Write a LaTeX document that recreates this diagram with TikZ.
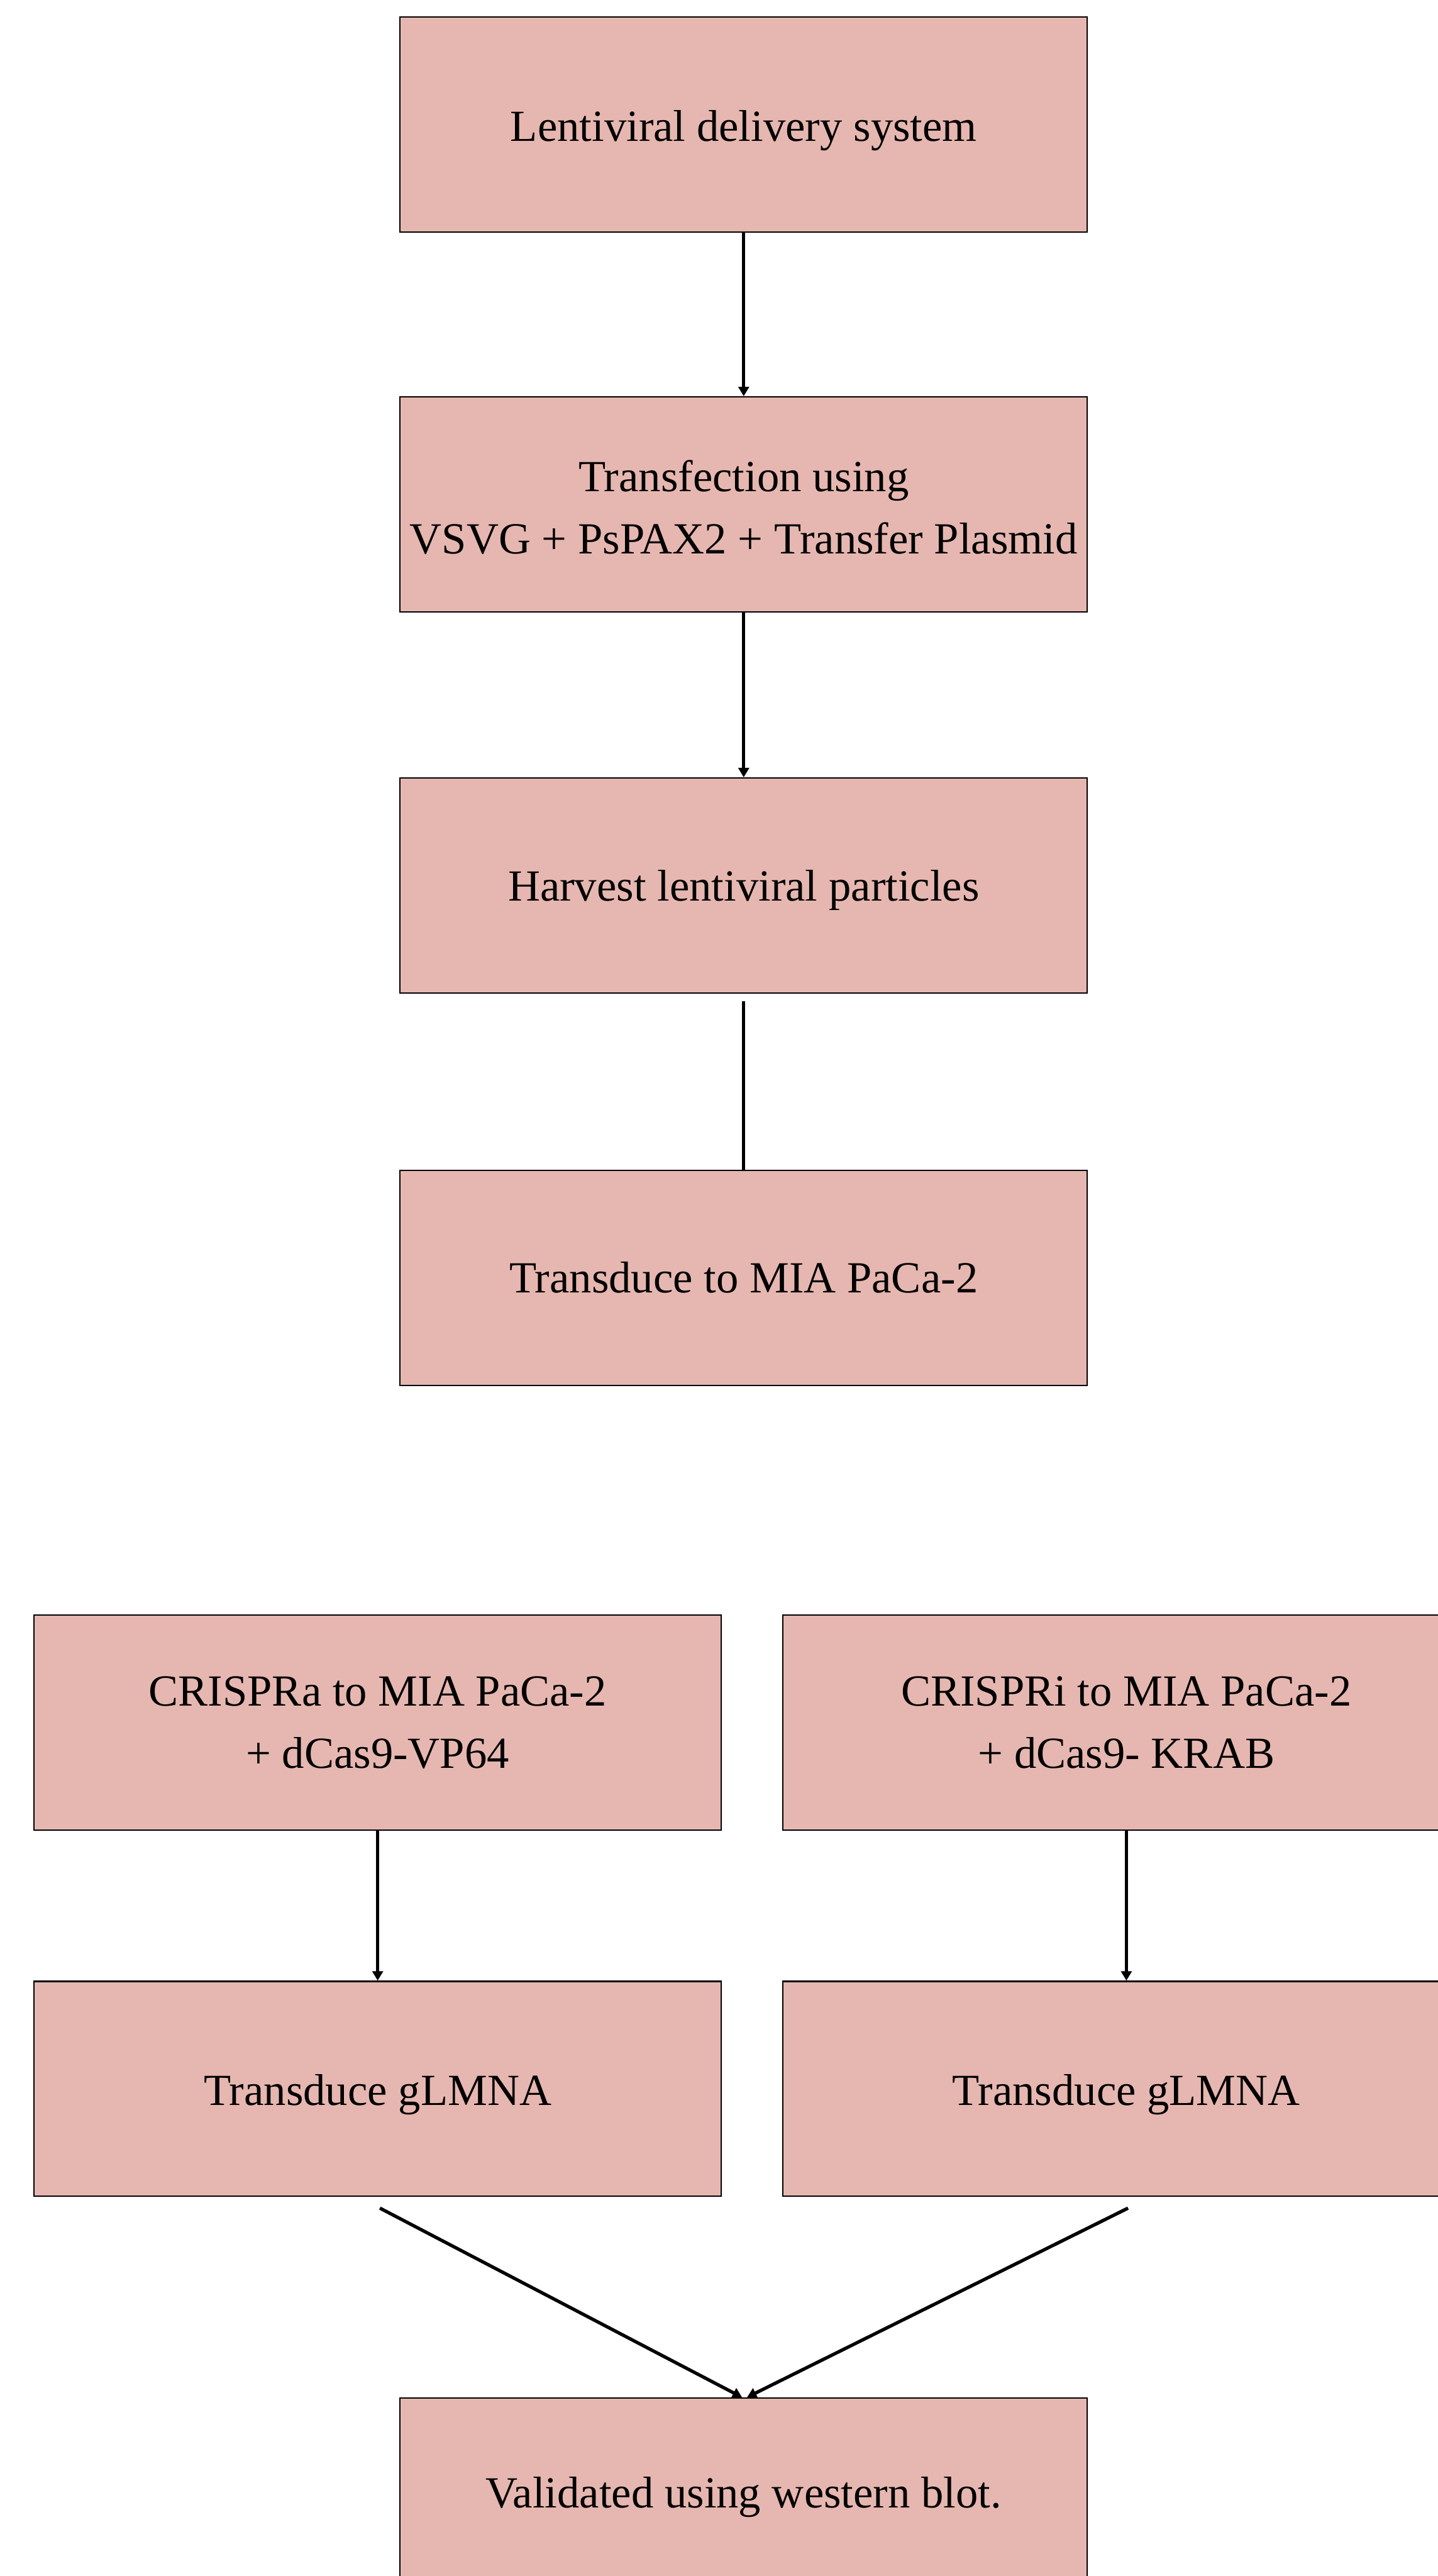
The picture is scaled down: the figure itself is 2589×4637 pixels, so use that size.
\documentclass[tikz,border=0pt]{standalone}
\usepackage{fontspec}
\setmainfont{Liberation Serif}
\usetikzlibrary{arrows.meta,calc}
\definecolor{boxfill}{RGB}{230,183,176}
\newcommand{\shiftline}[2]{\raisebox{#1}[\height][\depth]{#2}}
\begin{document}
\begin{tikzpicture}[x=0.2pt,y=-0.2pt,
  stepbox/.style={draw=black,line width=0.5pt,fill=boxfill,minimum width=247.5pt,minimum height=77.4pt,
    inner sep=0pt,align=center,font=\fontsize{16pt}{22.4pt}\selectfont},
  arr/.style={line width=1.2pt,-{Triangle[length=3.4pt,width=3.8pt]}},
  plain/.style={line width=1.2pt}]
\useasboundingbox (0,0) rectangle (2589,4637);
\clip (0,0) rectangle (2589,4637);
\fill[white] (0,0) rectangle (2589,4637);
\node[stepbox] (b1) at (1339,224) {\shiftline{-2.2pt}{Lentiviral delivery system}};
\node[stepbox] (b2) at (1339,908) {\shiftline{-1pt}{Transfection using}\\\shiftline{-1pt}{VSVG + PsPAX2 + Transfer Plasmid}};
\node[stepbox] (b3) at (1339,1594) {\shiftline{-1.6pt}{Harvest lentiviral particles}};
\node[stepbox] (b4) at (1339,2300) {Transduce to MIA PaCa-2};
\node[stepbox] (b5) at (680,3101) {CRISPRa to MIA PaCa-2\\+ dCas9-VP64};
\node[stepbox] (b6) at (2028,3101) {CRISPRi to MIA PaCa-2\\+ dCas9- KRAB};
\node[stepbox] (b7) at (680,3760) {\shiftline{-2pt}{Transduce gLMNA}};
\node[stepbox] (b8) at (2028,3760) {\shiftline{-2pt}{Transduce gLMNA}};
\node[stepbox] (b9) at (1339,4510) {\shiftline{3pt}{Validated using western blot.}};
\coordinate (s3) at ($(b3.south)+(0,13)$);
\coordinate (s7) at ($(b7.south)+(4,20)$);
\coordinate (s8) at ($(b8.south)+(3,20)$);
\coordinate (e7) at ($(b9.north)+(-3,0)$);
\coordinate (e8) at ($(b9.north)+(6,0)$);
\draw[arr] (b1.south) -- (b2.north);
\draw[arr] (b2.south) -- (b3.north);
\draw[plain] (s3) -- (b4.north);
\draw[arr] (b5.south) -- (b7.north);
\draw[arr] (b6.south) -- (b8.north);
\draw[arr] (s7) -- (e7);
\draw[arr] (s8) -- (e8);
\end{tikzpicture}
\end{document}
